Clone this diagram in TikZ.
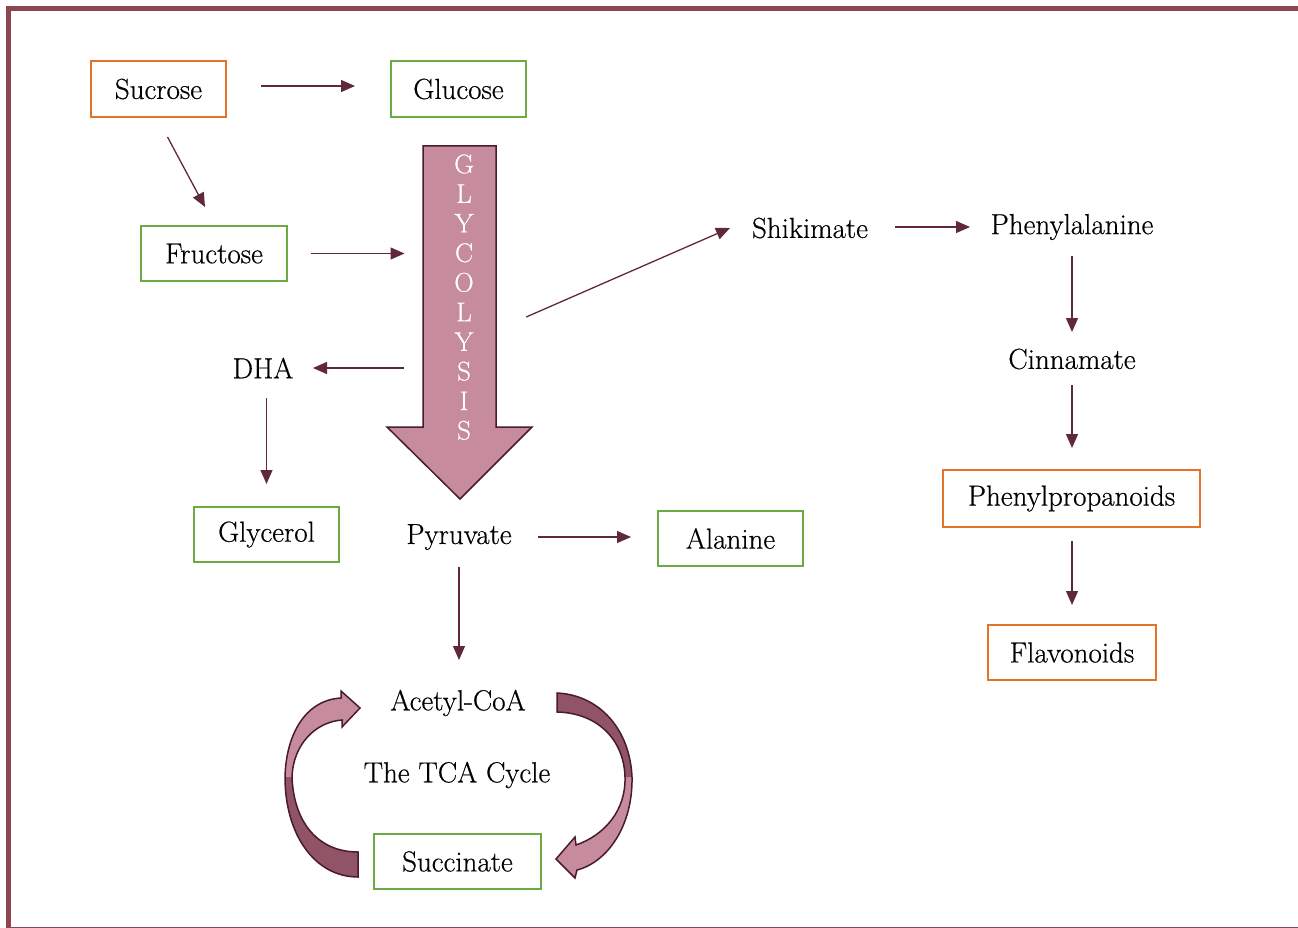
\documentclass[tikz,border=0pt]{standalone}
\usepackage{fontspec}
\newfontfamily\lblfont{Latin Modern Roman}[FakeBold=0.5]
\usetikzlibrary{arrows.meta,calc}
\definecolor{bordercol}{RGB}{139,70,80}
\definecolor{arrcol}{RGB}{95,40,60}
\definecolor{boxorange}{RGB}{226,115,40}
\definecolor{boxgreen}{RGB}{108,170,66}
\definecolor{pinklight}{RGB}{198,140,158}
\definecolor{pinkdark}{RGB}{145,84,102}
\definecolor{outl}{RGB}{72,28,44}
\tikzset{
  lbl/.style={font=\lblfont\fontsize{29}{32}\selectfont, text=black, inner sep=0pt, minimum height=30pt},
  obox/.style={lbl, draw=boxorange, line width=2pt, minimum height=56pt},
  gbox/.style={lbl, draw=boxgreen, line width=2pt, minimum height=55pt},
  arr/.style={draw=arrcol, line width=1.3pt, -{Triangle[length=14pt,width=12pt]}},
  glyletter/.style={text=white, font=\lblfont\fontsize{27}{29}\selectfont, inner sep=0pt},
  bigarrow/.style={fill=pinklight, draw=outl, line width=1.5pt, line join=miter},
}
\begin{document}
\begin{tikzpicture}[x=1pt,y=-1pt]
\useasboundingbox (0,0) rectangle (1298,928);
\draw[bordercol, line width=5pt] (8,9) rectangle (1330,929);

% boxes and labels
\node[obox, minimum width=135pt] (sucrose) at (158.5,89) {Sucrose};
\node[gbox, minimum width=135pt, minimum height=56pt] (glucose) at (458.5,89) {Glucose};
\node[gbox, minimum width=146pt] (fructose) at (214,253.5) {Fructose};
\node[lbl] (dha) at (263,368) {DHA};
\node[gbox, minimum width=145pt] (glycerol) at (266.5,534.5) {Glycerol};
\node[lbl] (pyruvate) at (459,537) {Pyruvate};
\node[gbox, minimum width=145pt] (alanine) at (730.5,538.5) {Alanine};
\node[lbl] (acetyl) at (458,703) {Acetyl-CoA};
\node[lbl] (tca) at (457,775) {The TCA Cycle};
\node[gbox, minimum width=167pt] (succinate) at (457.5,861.5) {Succinate};
\node[lbl] (shikimate) at (810,228) {Shikimate};
\node[lbl] (phenylalanine) at (1072,227) {Phenylalanine};
\node[lbl] (cinnamate) at (1072,359) {Cinnamate};
\node[obox, minimum width=257pt, minimum height=57pt] (phenylprop) at (1071.5,498.5) {Phenylpropanoids};
\node[obox, minimum width=168pt, minimum height=55pt] (flavonoids) at (1072,652.5) {Flavonoids};

% glycolysis big arrow
\node[minimum width=73pt, minimum height=282pt, inner sep=0pt] (glyc) at (459.5,287) {};
\draw[bigarrow] (423,146) -- (496,146) -- (496,427) -- (532,427) -- (460,499) -- (387,427) -- (423,427) -- cycle;
\foreach \l [count=\i from 0] in {G,L,Y,C,O,L,Y,S,I,S}
  \node[glyletter] (gl\i) at (464,{164+\i*29.6}) {\l};

% connectors
\draw[arr, shorten <=102.5pt, shorten >=103.5pt] ([yshift=3pt]sucrose.center) -- ([yshift=3pt]glucose.center);
\draw[arr] ([shift={(9,19)}]sucrose.south) -- ([shift={(-9,-18)}]fructose.north);
\draw[arr, shorten <=97pt, shorten >=55pt] (fructose.center) -- (fructose.center -| glyc.center);
\draw[arr, shorten <=56pt, shorten >=50pt] (dha.center -| glyc.center) -- (dha.center);
\draw[arr, shorten <=30pt, shorten >=50.5pt] (dha.center -| glycerol.center) -- (glycerol.center);
\draw[arr, shorten <=79pt, shorten >=99.5pt] (pyruvate.center) -- (pyruvate.center -| alanine.center);
\draw[arr, shorten <=30pt, shorten >=43pt] (pyruvate.center) -- (pyruvate.center |- acetyl.center);
\draw[arr] ([shift={(30,30)}]glyc.east) -- ([xshift=-80pt]shikimate.center);
\draw[arr, shorten <=85pt, shorten >=102pt] ([yshift=1pt]shikimate.center) -- (phenylalanine.center);
\draw[arr, shorten <=29pt, shorten >=27pt] (phenylalanine.center) -- (cinnamate.center);
\draw[arr, shorten <=26pt, shorten >=50.5pt] (cinnamate.center) -- (cinnamate.center |- phenylprop.center);
\draw[arr, shorten <=42.5pt, shorten >=47.5pt] (phenylprop.center -| flavonoids.center) -- (flavonoids.center);

% TCA cycle curved arrows
% left arrow (from Succinate up to Acetyl-CoA)
\fill[pinklight] (358,877) .. controls (315,877) and (285,835) .. (285,777)
  .. controls (286,735) and (305,700) .. (341,698)
  -- (341,691) -- (360,708) -- (342,727) -- (342,720)
  .. controls (315,722) and (293,745) .. (292,777)
  .. controls (294,825) and (320,852) .. (358,852) -- cycle;
\fill[pinkdark] (358,877) .. controls (315,877) and (285,835) .. (285,777)
  -- (292,777) .. controls (294,825) and (320,852) .. (358,852) -- cycle;
\draw[outl, line width=1.5pt, line join=miter] (358,877) .. controls (315,877) and (285,835) .. (285,777)
  .. controls (286,735) and (305,700) .. (341,698)
  -- (341,691) -- (360,708) -- (342,727) -- (342,720)
  .. controls (315,722) and (293,745) .. (292,777)
  .. controls (294,825) and (320,852) .. (358,852) -- cycle;
% right arrow (from Acetyl-CoA down to Succinate)
\fill[pinklight] (557,693) .. controls (600,695) and (630,730) .. (632,777)
  .. controls (633,825) and (608,862) .. (577,870)
  -- (575,878) -- (556,859) -- (575,837) -- (576,845)
  .. controls (605,835) and (626,810) .. (625,777)
  .. controls (624,740) and (598,713) .. (557,712) -- cycle;
\fill[pinkdark] (557,693) .. controls (600,695) and (630,730) .. (632,777)
  -- (625,777) .. controls (624,740) and (598,713) .. (557,712) -- cycle;
\draw[outl, line width=1.5pt, line join=miter] (557,693) .. controls (600,695) and (630,730) .. (632,777)
  .. controls (633,825) and (608,862) .. (577,870)
  -- (575,878) -- (556,859) -- (575,837) -- (576,845)
  .. controls (605,835) and (626,810) .. (625,777)
  .. controls (624,740) and (598,713) .. (557,712) -- cycle;
\end{tikzpicture}
\end{document}
